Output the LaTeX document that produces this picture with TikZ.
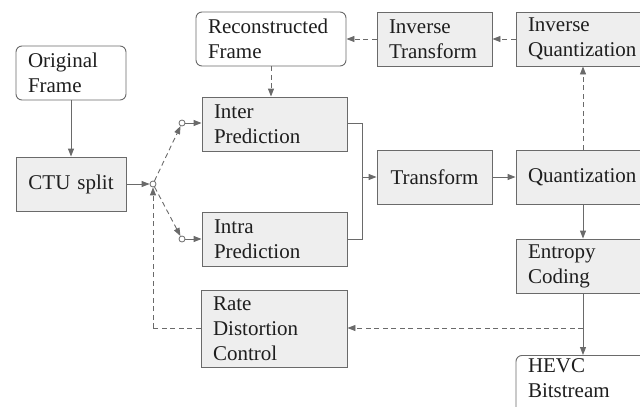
\documentclass[tikz,border=0pt]{standalone}
\usepackage{fontspec}
\setmainfont{Liberation Serif}
\usetikzlibrary{arrows.meta,calc}
\definecolor{boxgray}{HTML}{EEEEEE}
\definecolor{linegray}{HTML}{6A6A6A}
\definecolor{txt}{HTML}{1E1E1E}
\tikzset{
  box/.style={draw=linegray, fill=boxgray, line width=0.9pt, minimum height=54pt,
    inner xsep=12pt, inner ysep=0pt, align=left, text=txt},
  rbox/.style={box, fill=white, rounded corners=6pt},
  conn/.style={draw=linegray, line width=0.9pt},
  arr/.style={conn, -{Triangle[length=8pt,width=6pt]}},
  darr/.style={arr, dash pattern=on 5pt off 3.5pt},
  dline/.style={conn, dash pattern=on 5pt off 3.5pt},
  jn/.style={circle, draw=linegray, fill=white, line width=0.8pt, inner sep=0pt, minimum size=6pt},
}
\begin{document}
\begin{tikzpicture}[x=1pt,y=-1pt,font=\fontsize{21}{25}\selectfont]
\useasboundingbox (0,0) rectangle (640,407);
\clip (0,0) rectangle (640,407);
% boxes
\node[rbox, minimum width=110pt, text width=86pt] (orig) at (71,73) {Original\\Frame};
\node[box, minimum width=110pt, text width=86pt, align=center] (ctu) at (71,184) {CTU split};
\node[box, minimum width=145pt, text width=121pt] (inter) at (274.5,124) {Inter\\Prediction};
\node[box, minimum width=145pt, text width=121pt] (intra) at (274.5,239.5) {Intra\\Prediction};
\node[box, minimum width=115pt, text width=91pt, align=center] (trans) at (434.5,177) {Transform};
\node[box, minimum width=134pt, text width=110pt] (quant) at (583,177) {Quantization};
\node[box, minimum width=134pt, text width=110pt] (entropy) at (583,266) {Entropy\\Coding};
\node[rbox, minimum width=134pt, text width=110pt, minimum height=0pt, inner ysep=3pt, anchor=north] (hevc) at (583,355) {HEVC\\Bitstream\\\strut};
\node[box, minimum width=146pt, text width=122pt, minimum height=77pt] (rd) at (274,328.5) {Rate\\Distortion\\Control};
\node[box, minimum width=134pt, text width=110pt] (invq) at (583,39) {Inverse\\Quantization};
\node[box, minimum width=115pt, text width=91pt] (invt) at (434.5,39) {Inverse\\Transform};
\node[rbox, minimum width=150pt, text width=126pt] (recon) at (271,39) {Reconstructed\\Frame};
% junctions
\node[jn] (j0) at (153,184) {};
\node[jn] (j1) at (182,123) {};
\node[jn] (j2) at (182,239) {};
\coordinate (merge) at (362,177);
\coordinate (tap) at (583,328);
\coordinate (back) at (153,328);
% connectors
\draw[arr] (orig.south) -- (ctu.north);
\draw[arr] (ctu.east) -- (j0.west);
\draw[darr] (j0) -- (j1);
\draw[darr] (j0) -- (j2);
\draw[arr] (j1.east) -- (j1.east -| inter.west);
\draw[arr] (j2.east) -- (j2.east -| intra.west);
\draw[conn] (inter.east |- j1) -| (merge);
\draw[conn] (intra.east |- j2) -| (merge);
\draw[arr] (merge) -- (trans.west);
\draw[arr] (trans.east) -- (quant.west);
\draw[arr] (quant.south) -- (entropy.north);
\draw[arr] (entropy.south) -- (hevc.north);
\draw[darr] (tap) -- (tap -| rd.east);
\draw[dline] (back -| rd.west) -- (back);
\draw[darr] (back) -- (j0.south);
\draw[darr] (quant.north) -- (invq.south);
\draw[darr] (invq.west) -- (invt.east);
\draw[darr] (invt.west) -- (recon.east);
\draw[darr] (recon.south) -- (recon.south |- inter.north);
\end{tikzpicture}
\end{document}
